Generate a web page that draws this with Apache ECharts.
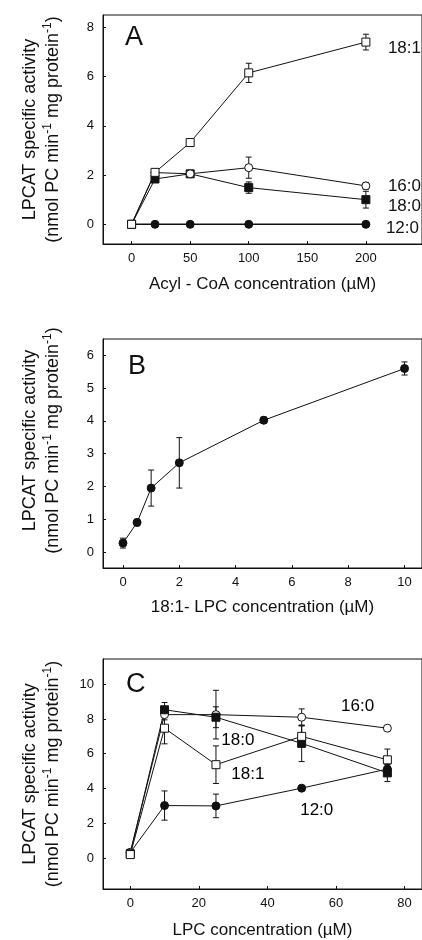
<!DOCTYPE html>
<html>
<head>
<meta charset="utf-8">
<script src="https://cdn.jsdelivr.net/npm/echarts@6/dist/echarts.min.js"></script>
<style>
  html, body { margin: 0; padding: 0; background: #fff; }
  #main { width: 422px; height: 940px; }
</style>
</head>
<body>
<div id="main"></div>
<script>
// panel A: acyl-CoA concentration
var xA = [0, 20, 50, 100, 200];
var a181 = [0, 2.11, 3.32, 6.15, 7.4];
var a181Err = [0, 0.06, 0.1, 0.39, 0.32];
var a160 = [0, 2.1, 2.05, 2.3, 1.56];
var a160Err = [0, 0, 0.05, 0.43, 0.14];
var a180 = [0, 1.84, 2.05, 1.49, 1.0];
var a180Err = [0, 0.06, 0.05, 0.23, 0.34];
var a120 = [0, 0, 0, 0, 0];
var ticksAx = [0, 50, 100, 150, 200];
var ticksAy = [0, 2, 4, 6, 8];

// panel B: 18:1-LPC concentration
var xB = [0, 0.5, 1, 2, 5, 10];
var b181 = [0.27, 0.9, 1.95, 2.72, 4.02, 5.6];
var b181Err = [0.15, 0.1, 0.55, 0.77, 0.1, 0.2];
var ticksBx = [0, 2, 4, 6, 8, 10];
var ticksBy = [0, 1, 2, 3, 4, 5, 6];

// panel C: LPC concentration
var xC = [0, 10, 25, 50, 75];
var c160 = [0.33, 8.25, 8.25, 8.1, 7.47];
var c160Err = [0, 0.3, 1.4, 0.48, 0];
var c180 = [0.25, 8.53, 8.1, 6.6, 4.9];
var c180Err = [0, 0.42, 0.6, 1.05, 0.5];
var c181 = [0.2, 7.47, 5.37, 7.0, 5.65];
var c181Err = [0, 0.9, 1.08, 0.6, 0.62];
var c120 = [0.32, 3.02, 3.0, 4.02, 5.12];
var c120Err = [0, 0.84, 0.68, 0, 0.25];
var ticksCx = [0, 20, 40, 60, 80];
var ticksCy = [0, 2, 4, 6, 8, 10];

var FONT = 'Liberation Sans, Arial, sans-serif';
var INK = '#111';

var chart = echarts.init(document.getElementById('main'));

function pairs(xs, ys) {
  return xs.map(function (x, i) { return [x, ys[i]]; });
}

function lineSeries(name, idx, xs, ys, symbol, filled, extra) {
  var s = {
    name: name,
    type: 'line',
    xAxisIndex: idx,
    yAxisIndex: idx,
    data: pairs(xs, ys),
    symbol: symbol,
    symbolSize: 8,
    showAllSymbol: true,
    lineStyle: { color: INK, width: 1 },
    itemStyle: { color: filled ? INK : '#fff', borderColor: INK, borderWidth: 1, opacity: 1 },
    emphasis: { disabled: true },
    animation: false,
    z: 3
  };
  return Object.assign(s, extra || {});
}

function errSeries(idx, xs, ys, es) {
  return {
    type: 'custom',
    xAxisIndex: idx,
    yAxisIndex: idx,
    data: xs.map(function (x, i) { return [x, ys[i], es[i]]; }),
    renderItem: function (params, api) {
      var e = api.value(2);
      if (!e) return null;
      var x = api.value(0), y = api.value(1);
      var top = api.coord([x, y + e]);
      var bot = api.coord([x, y - e]);
      var st = { stroke: INK, lineWidth: 1 };
      return {
        type: 'group',
        children: [
          { type: 'line', shape: { x1: top[0], y1: top[1], x2: bot[0], y2: bot[1] }, style: st },
          { type: 'line', shape: { x1: top[0] - 3, y1: top[1], x2: top[0] + 3, y2: top[1] }, style: st },
          { type: 'line', shape: { x1: bot[0] - 3, y1: bot[1], x2: bot[0] + 3, y2: bot[1] }, style: st }
        ]
      };
    },
    animation: false,
    silent: true,
    z: 2
  };
}

function xAxis(idx, min, max, ticks, title, gap) {
  return {
    type: 'value', gridIndex: idx, min: min, max: max,
    name: title, nameLocation: 'middle', nameGap: gap,
    nameTextStyle: { fontFamily: FONT, fontSize: 17, color: INK },
    axisLine: { show: true, onZero: false, lineStyle: { color: INK, width: 1 } },
    axisTick: { show: true, inside: true, length: 3, customValues: ticks, lineStyle: { color: INK } },
    axisLabel: { customValues: ticks, fontFamily: FONT, fontSize: 13, color: INK, margin: 8 },
    splitLine: { show: false }
  };
}

var yTitle = 'LPCAT specific activity\n(nmol PC min{sup|-1} mg protein{sup|-1})';

function yAxis(idx, min, max, ticks, pad) {
  return {
    type: 'value', gridIndex: idx, min: min, max: max,
    name: yTitle, nameLocation: 'middle', nameRotate: 90, nameGap: 38,
    nameTextStyle: {
      fontFamily: FONT, fontSize: 18, color: INK, lineHeight: 23, align: 'center',
      padding: pad,
      rich: { sup: { fontFamily: FONT, fontSize: 12, color: INK, verticalAlign: 'top', lineHeight: 16 } }
    },
    axisLine: { show: true, onZero: false, lineStyle: { color: INK, width: 1 } },
    axisTick: { show: true, inside: true, length: 3, customValues: ticks, lineStyle: { color: INK } },
    axisLabel: { customValues: ticks, fontFamily: FONT, fontSize: 13, color: INK, margin: 9 },
    splitLine: { show: false }
  };
}

function endLabel(dx, dy) {
  return {
    endLabel: {
      show: true, formatter: '{a}', offset: [dx, dy],
      fontFamily: FONT, fontSize: 17, color: INK, textBorderWidth: 0
    }
  };
}

// free-standing series names inside panel C
function tagSeries(idx, items) {
  return {
    type: 'scatter', xAxisIndex: idx, yAxisIndex: idx,
    symbol: 'circle', symbolSize: 1, silent: true, animation: false,
    itemStyle: { color: 'rgba(0,0,0,0)', opacity: 1 },
    emphasis: { disabled: true },
    data: items.map(function (t) { return { value: [t[0], t[1]], name: t[2] }; }),
    label: {
      show: true, position: 'inside', formatter: '{b}', opacity: 1,
      fontFamily: FONT, fontSize: 17, color: '#000', textBorderWidth: 0
    },
    z: 5
  };
}

function letter(txt, x, y) {
  return {
    type: 'text', left: x, top: y,
    style: { text: txt, font: '27px ' + FONT, fill: INK }
  };
}

var gridBase = { left: 103, right: -5, show: true, borderColor: INK, borderWidth: 1, backgroundColor: 'transparent' };

chart.setOption({
  backgroundColor: '#fff',
  animation: false,
  grid: [
    Object.assign({ top: 15, height: 229 }, gridBase),
    Object.assign({ top: 339, height: 229 }, gridBase),
    Object.assign({ top: 659, height: 230 }, gridBase)
  ],
  xAxis: [
    xAxis(0, -24.4, 247.9, ticksAx, 'Acyl - CoA concentration (µM)', 32),
    xAxis(1, -0.71, 10.62, ticksBx, '18:1- LPC concentration (µM)', 31),
    xAxis(2, -7.95, 85.1, ticksCx, 'LPC concentration (µM)', 33)
  ],
  yAxis: [
    yAxis(0, -0.8, 8.5, ticksAy, 0),
    yAxis(1, -0.49, 6.5, ticksBy, [0, 0, 0, 26]),
    yAxis(2, -1.78, 11.45, ticksCy, 0)
  ],
  graphic: [
    letter('A', 125, 24),
    letter('B', 128, 353),
    letter('C', 126, 671)
  ],
  series: [
    // A
    errSeries(0, xA, a181, a181Err),
    errSeries(0, xA, a160, a160Err),
    errSeries(0, xA, a180, a180Err),
    lineSeries('12:0', 0, xA, a120, 'circle', true, Object.assign({ lineStyle: { color: INK, width: 1.4 } }, endLabel(12, 4))),
    lineSeries('18:0', 0, xA, a180, 'rect', true, endLabel(14, 7)),
    lineSeries('16:0', 0, xA, a160, 'circle', false, endLabel(14, 0)),
    lineSeries('18:1', 0, xA, a181, 'rect', false, endLabel(14, 6)),
    // B
    errSeries(1, xB, b181, b181Err),
    lineSeries('18:1 LPC', 1, xB, b181, 'circle', true),
    // C
    errSeries(2, xC, c160, c160Err),
    errSeries(2, xC, c180, c180Err),
    errSeries(2, xC, c181, c181Err),
    errSeries(2, xC, c120, c120Err),
    lineSeries('12:0', 2, xC, c120, 'circle', true),
    lineSeries('16:0', 2, xC, c160, 'circle', false),
    lineSeries('18:0', 2, xC, c180, 'rect', true),
    lineSeries('18:1', 2, xC, c181, 'rect', false),
    tagSeries(2, [[66.3, 8.71, '16:0'], [31.4, 6.8, '18:0'], [34.3, 4.79, '18:1'], [54.4, 2.74, '12:0']])
  ]
});
</script>
</body>
</html>
